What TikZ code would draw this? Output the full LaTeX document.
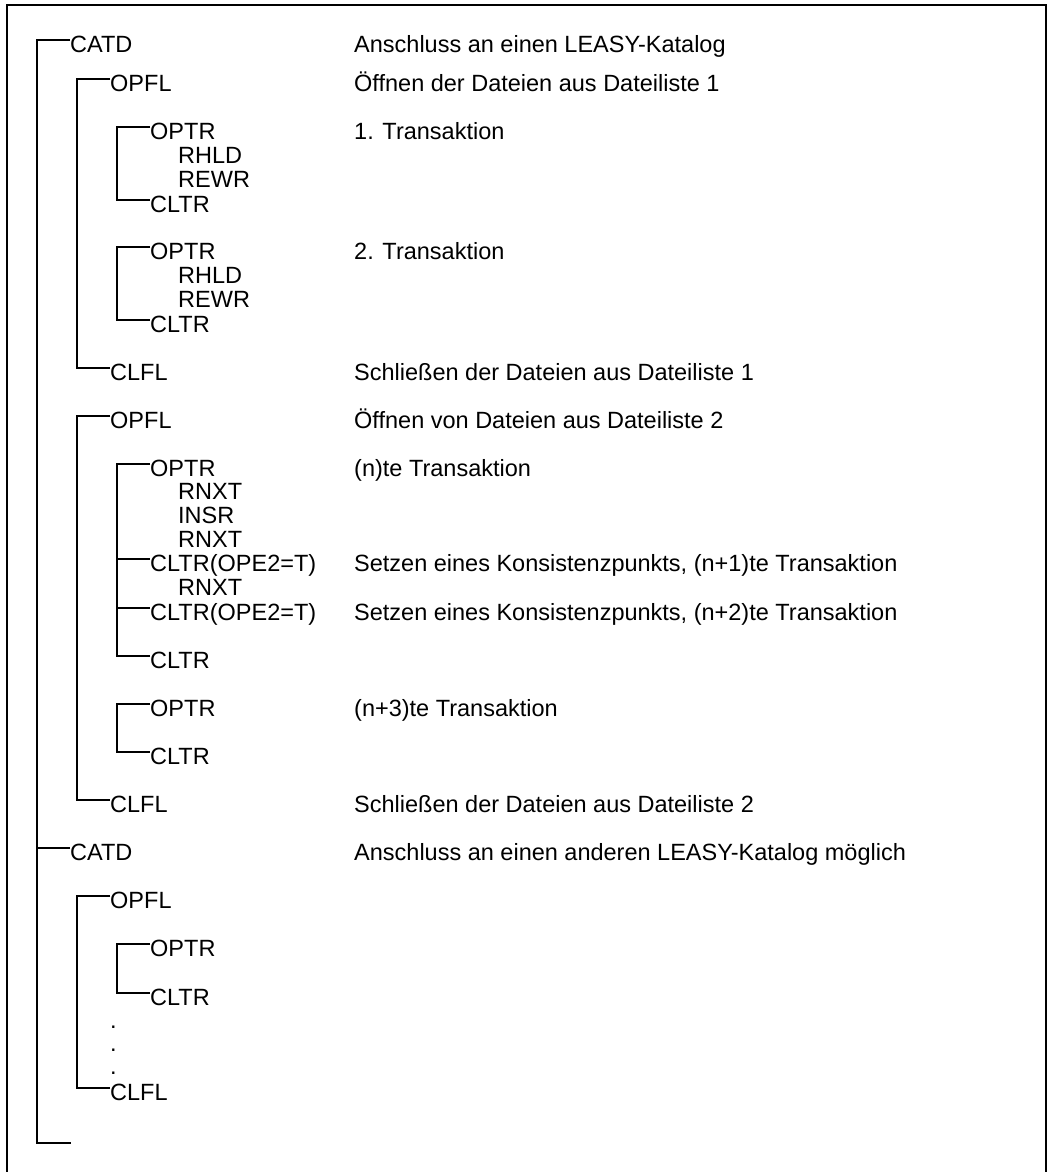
\documentclass[tikz,border=0pt]{standalone}
\usepackage{fontspec}
\setmainfont{Liberation Sans}
\begin{document}
\begin{tikzpicture}[x=1pt,y=-1pt,
  rule/.style={line width=1.3pt},
  frameline/.style={line width=1.4pt},
  entry/.style={anchor=north west, inner sep=0pt, text height=12.5pt,
    font=\fontsize{23.5}{24.3}\selectfont}]
\useasboundingbox (0,0) rectangle (1049,1172);

% open frame: left, top and right edges
\draw[frameline] (7,1172) -- (7,5) -- (1046,5) -- (1046,1172);

% x positions of the three tree levels
\coordinate (sp0) at (37,0);
\coordinate (sp1) at (77,0);
\coordinate (sp2) at (117,0);

% call sequence
\node[entry] (catd1) at (70,40) {CATD};
\node[entry] (opfl1) at (110,79) {OPFL};
\node[entry] (optr1) at (150,127) {OPTR};
\node[entry] (rhld1) at (178,151) {RHLD};
\node[entry] (rewr1) at (178,175) {REWR};
\node[entry] (cltr1) at (150,200) {CLTR};
\node[entry] (optr2) at (150,247) {OPTR};
\node[entry] (rhld2) at (178,271) {RHLD};
\node[entry] (rewr2) at (178,295) {REWR};
\node[entry] (cltr2) at (150,320) {CLTR};
\node[entry] (clfl1) at (110,368) {CLFL};
\node[entry] (opfl2) at (110,416) {OPFL};
\node[entry] (optr3) at (150,464) {OPTR};
\node[entry] (rnxt1) at (178,487) {RNXT};
\node[entry] (insr1) at (178,511) {INSR};
\node[entry] (rnxt2) at (178,535) {RNXT};
\node[entry] (cltrA) at (150,559) {CLTR(OPE2=T)};
\node[entry] (rnxt3) at (178,583) {RNXT};
\node[entry] (cltrB) at (150,608) {CLTR(OPE2=T)};
\node[entry] (cltr3) at (150,656) {CLTR};
\node[entry] (optr4) at (150,704) {OPTR};
\node[entry] (cltr4) at (150,752) {CLTR};
\node[entry] (clfl2) at (110,800) {CLFL};
\node[entry] (catd2) at (70,848) {CATD};
\node[entry] (opfl3) at (110,896) {OPFL};
\node[entry] (optr5) at (150,944) {OPTR};
\node[entry] (cltr5) at (150,993) {CLTR};
\node[entry] (dotA) at (110,1016) {.};
\node[entry] (dotB) at (110,1039) {.};
\node[entry] (dotC) at (110,1062) {.};
\node[entry] (clfl3) at (110,1088) {CLFL};
\coordinate (catdEnd) at (71,1143);

% descriptions
\node[entry] (d1) at (354,40) {Anschluss an einen LEASY-Katalog};
\node[entry] (d2) at (354,79) {Öffnen der Dateien aus Dateiliste 1};
\node[entry] (d3) at (354,127) {1. Transaktion};
\node[entry] (d4) at (354,247) {2. Transaktion};
\node[entry] (d5) at (354,368) {Schließen der Dateien aus Dateiliste 1};
\node[entry] (d6) at (354,416) {Öffnen von Dateien aus Dateiliste 2};
\node[entry] (d7) at (354,464) {(n)te Transaktion};
\node[entry] (d8) at (354,559) {Setzen eines Konsistenzpunkts, (n+1)te Transaktion};
\node[entry] (d9) at (354,608) {Setzen eines Konsistenzpunkts, (n+2)te Transaktion};
\node[entry] (d10) at (354,704) {(n+3)te Transaktion};
\node[entry] (d11) at (354,800) {Schließen der Dateien aus Dateiliste 2};
\node[entry] (d12) at (354,848) {Anschluss an einen anderen LEASY-Katalog möglich};

% level 0: catalog connections
\draw[rule] (catd1.north west) -- (catd1.north west -| sp0) -- (catdEnd -| sp0) -- (catdEnd);
\draw[rule] (catd2.north west -| sp0) -- (catd2.north west);

% level 1: file lists
\draw[rule] (opfl1.north west) -- (opfl1.north west -| sp1) -- (clfl1.north west -| sp1) -- (clfl1.north west);
\draw[rule] (opfl2.north west) -- (opfl2.north west -| sp1) -- (clfl2.north west -| sp1) -- (clfl2.north west);
\draw[rule] (opfl3.north west) -- (opfl3.north west -| sp1) -- (clfl3.north west -| sp1) -- (clfl3.north west);

% level 2: transactions
\draw[rule] (optr1.north west) -- (optr1.north west -| sp2) -- (cltr1.north west -| sp2) -- (cltr1.north west);
\draw[rule] (optr2.north west) -- (optr2.north west -| sp2) -- (cltr2.north west -| sp2) -- (cltr2.north west);
\draw[rule] (optr3.north west) -- (optr3.north west -| sp2) -- (cltr3.north west -| sp2) -- (cltr3.north west);
\draw[rule] (cltrA.north west -| sp2) -- (cltrA.north west);
\draw[rule] (cltrB.north west -| sp2) -- (cltrB.north west);
\draw[rule] (optr4.north west) -- (optr4.north west -| sp2) -- (cltr4.north west -| sp2) -- (cltr4.north west);
\draw[rule] (optr5.north west) -- (optr5.north west -| sp2) -- (cltr5.north west -| sp2) -- (cltr5.north west);
\end{tikzpicture}
\end{document}
